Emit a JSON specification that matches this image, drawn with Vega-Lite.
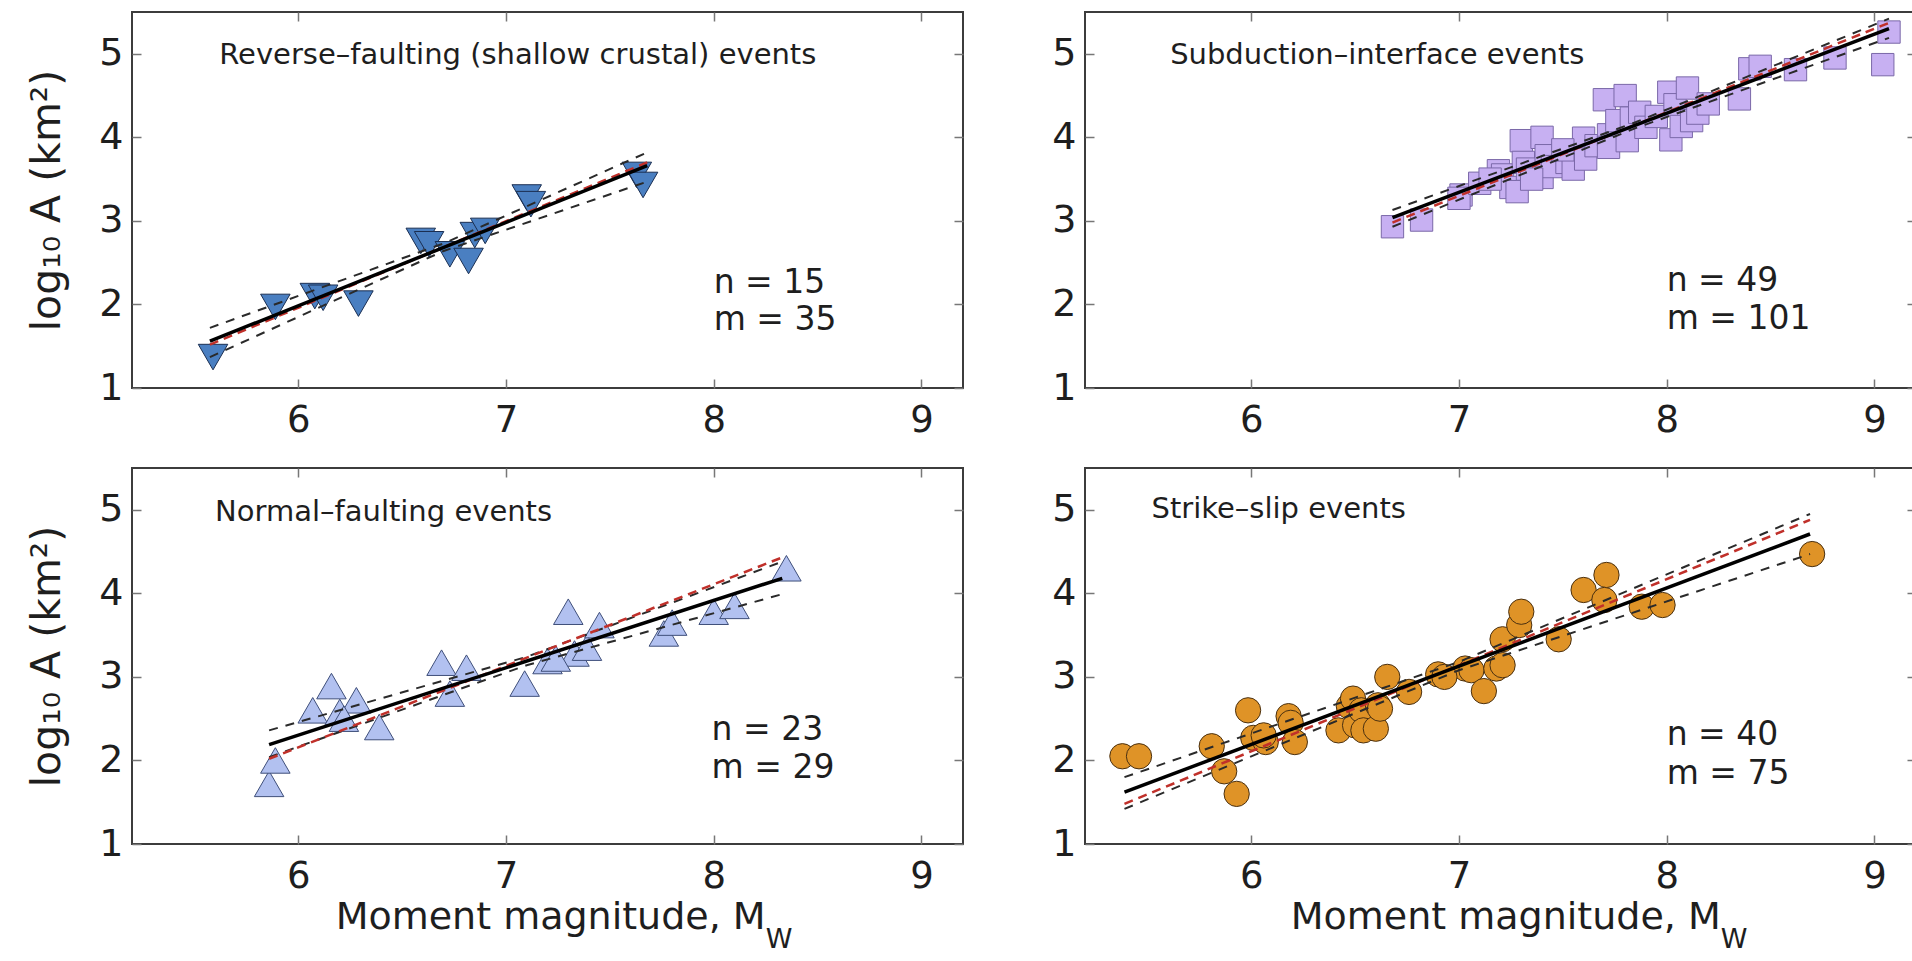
{
"$schema": "https://vega.github.io/schema/vega-lite/v6.json",
"padding": {"left": 25, "top": 10, "right": 0, "bottom": 0},
"background": "white",
"datasets": {
"pts": [
{"p":"rev","mw":5.59,"logA":1.37},{"p":"rev","mw":5.89,"logA":1.97},{"p":"rev","mw":6.08,"logA":2.10},{"p":"rev","mw":6.12,"logA":2.08},{"p":"rev","mw":6.29,"logA":2.01},{"p":"rev","mw":6.59,"logA":2.76},{"p":"rev","mw":6.63,"logA":2.72},{"p":"rev","mw":6.73,"logA":2.60},{"p":"rev","mw":6.82,"logA":2.52},{"p":"rev","mw":6.85,"logA":2.83},{"p":"rev","mw":6.90,"logA":2.88},{"p":"rev","mw":7.10,"logA":3.28},{"p":"rev","mw":7.12,"logA":3.20},{"p":"rev","mw":7.63,"logA":3.55},{"p":"rev","mw":7.66,"logA":3.43},
{"p":"sub","mw":6.68,"logA":2.93},{"p":"sub","mw":6.82,"logA":3.01},{"p":"sub","mw":7.01,"logA":3.31},{"p":"sub","mw":7.00,"logA":3.27},{"p":"sub","mw":7.19,"logA":3.60},{"p":"sub","mw":7.21,"logA":3.55},{"p":"sub","mw":7.25,"logA":3.40},{"p":"sub","mw":7.28,"logA":3.35},{"p":"sub","mw":7.30,"logA":3.96},{"p":"sub","mw":7.31,"logA":3.70},{"p":"sub","mw":7.33,"logA":3.62},{"p":"sub","mw":7.40,"logA":4.00},{"p":"sub","mw":7.40,"logA":3.52},{"p":"sub","mw":7.42,"logA":3.78},{"p":"sub","mw":7.45,"logA":3.65},{"p":"sub","mw":7.52,"logA":3.70},{"p":"sub","mw":7.55,"logA":3.62},{"p":"sub","mw":7.60,"logA":3.99},{"p":"sub","mw":7.61,"logA":3.74},{"p":"sub","mw":7.66,"logA":3.90},{"p":"sub","mw":7.70,"logA":4.45},{"p":"sub","mw":7.72,"logA":4.03},{"p":"sub","mw":7.72,"logA":3.88},{"p":"sub","mw":7.76,"logA":4.20},{"p":"sub","mw":7.80,"logA":4.50},{"p":"sub","mw":7.81,"logA":3.96},{"p":"sub","mw":7.83,"logA":4.23},{"p":"sub","mw":7.87,"logA":4.30},{"p":"sub","mw":7.90,"logA":4.12},{"p":"sub","mw":7.95,"logA":4.25},{"p":"sub","mw":8.01,"logA":4.54},{"p":"sub","mw":8.02,"logA":3.97},{"p":"sub","mw":8.04,"logA":4.39},{"p":"sub","mw":8.07,"logA":4.13},{"p":"sub","mw":8.10,"logA":4.59},{"p":"sub","mw":8.12,"logA":4.20},{"p":"sub","mw":8.15,"logA":4.29},{"p":"sub","mw":8.35,"logA":4.46},{"p":"sub","mw":8.40,"logA":4.82},{"p":"sub","mw":8.45,"logA":4.85},{"p":"sub","mw":8.62,"logA":4.81},{"p":"sub","mw":8.81,"logA":4.95},{"p":"sub","mw":9.04,"logA":4.87},{"p":"sub","mw":9.07,"logA":5.26},{"p":"sub","mw":7.10,"logA":3.45},{"p":"sub","mw":7.50,"logA":3.85},{"p":"sub","mw":7.35,"logA":3.50},{"p":"sub","mw":8.20,"logA":4.40},{"p":"sub","mw":7.15,"logA":3.50},
{"p":"nor","mw":5.86,"logA":1.72},{"p":"nor","mw":5.89,"logA":2.00},{"p":"nor","mw":6.07,"logA":2.60},{"p":"nor","mw":6.16,"logA":2.89},{"p":"nor","mw":6.20,"logA":2.58},{"p":"nor","mw":6.28,"logA":2.72},{"p":"nor","mw":6.39,"logA":2.40},{"p":"nor","mw":6.69,"logA":3.17},{"p":"nor","mw":6.73,"logA":2.80},{"p":"nor","mw":6.81,"logA":3.11},{"p":"nor","mw":7.09,"logA":2.92},{"p":"nor","mw":7.20,"logA":3.19},{"p":"nor","mw":7.30,"logA":3.78},{"p":"nor","mw":7.33,"logA":3.28},{"p":"nor","mw":7.39,"logA":3.35},{"p":"nor","mw":7.45,"logA":3.62},{"p":"nor","mw":7.76,"logA":3.52},{"p":"nor","mw":7.80,"logA":3.65},{"p":"nor","mw":8.00,"logA":3.78},{"p":"nor","mw":8.10,"logA":3.85},{"p":"nor","mw":8.35,"logA":4.30},{"p":"nor","mw":6.22,"logA":2.50},{"p":"nor","mw":7.24,"logA":3.22},
{"p":"ss","mw":5.38,"logA":2.05},{"p":"ss","mw":5.46,"logA":2.05},{"p":"ss","mw":5.81,"logA":2.17},{"p":"ss","mw":5.87,"logA":1.87},{"p":"ss","mw":5.93,"logA":1.60},{"p":"ss","mw":5.985,"logA":2.60},{"p":"ss","mw":6.01,"logA":2.27},{"p":"ss","mw":6.07,"logA":2.22},{"p":"ss","mw":6.18,"logA":2.53},{"p":"ss","mw":6.19,"logA":2.45},{"p":"ss","mw":6.21,"logA":2.22},{"p":"ss","mw":6.42,"logA":2.36},{"p":"ss","mw":6.47,"logA":2.65},{"p":"ss","mw":6.49,"logA":2.74},{"p":"ss","mw":6.50,"logA":2.42},{"p":"ss","mw":6.53,"logA":2.60},{"p":"ss","mw":6.54,"logA":2.36},{"p":"ss","mw":6.60,"logA":2.38},{"p":"ss","mw":6.61,"logA":2.66},{"p":"ss","mw":6.655,"logA":3.00},{"p":"ss","mw":6.76,"logA":2.82},{"p":"ss","mw":6.90,"logA":3.03},{"p":"ss","mw":7.03,"logA":3.10},{"p":"ss","mw":7.06,"logA":3.08},{"p":"ss","mw":7.12,"logA":2.83},{"p":"ss","mw":7.18,"logA":3.10},{"p":"ss","mw":7.21,"logA":3.14},{"p":"ss","mw":7.21,"logA":3.45},{"p":"ss","mw":7.29,"logA":3.62},{"p":"ss","mw":7.30,"logA":3.78},{"p":"ss","mw":7.48,"logA":3.45},{"p":"ss","mw":7.60,"logA":4.04},{"p":"ss","mw":7.71,"logA":4.22},{"p":"ss","mw":7.70,"logA":3.92},{"p":"ss","mw":7.88,"logA":3.84},{"p":"ss","mw":7.98,"logA":3.86},{"p":"ss","mw":8.70,"logA":4.47},{"p":"ss","mw":6.93,"logA":3.00},{"p":"ss","mw":6.62,"logA":2.62},{"p":"ss","mw":6.06,"logA":2.30}
],
"lns": [
{"p":"rev","g":"fit","mw":5.575,"logA":1.56},{"p":"rev","g":"fit","mw":7.68,"logA":3.66},
{"p":"rev","g":"alt","mw":5.575,"logA":1.52},{"p":"rev","g":"alt","mw":7.68,"logA":3.70},
{"p":"rev","g":"hi","mw":5.575,"logA":1.72},{"p":"rev","g":"hi","mw":6.7,"logA":2.73},{"p":"rev","g":"hi","mw":7.68,"logA":3.82},
{"p":"rev","g":"lo","mw":5.575,"logA":1.37},{"p":"rev","g":"lo","mw":6.7,"logA":2.64},{"p":"rev","g":"lo","mw":7.68,"logA":3.47},
{"p":"sub","g":"fit","mw":6.68,"logA":3.04},{"p":"sub","g":"fit","mw":9.07,"logA":5.30},
{"p":"sub","g":"alt","mw":6.68,"logA":2.98},{"p":"sub","g":"alt","mw":9.07,"logA":5.37},
{"p":"sub","g":"hi","mw":6.68,"logA":3.13},{"p":"sub","g":"hi","mw":7.85,"logA":4.18},{"p":"sub","g":"hi","mw":9.07,"logA":5.42},
{"p":"sub","g":"lo","mw":6.68,"logA":2.93},{"p":"sub","g":"lo","mw":7.85,"logA":4.11},{"p":"sub","g":"lo","mw":9.07,"logA":5.19},
{"p":"nor","g":"fit","mw":5.86,"logA":2.19},{"p":"nor","g":"fit","mw":8.33,"logA":4.18},
{"p":"nor","g":"alt","mw":5.86,"logA":2.02},{"p":"nor","g":"alt","mw":8.33,"logA":4.43},
{"p":"nor","g":"hi","mw":5.86,"logA":2.36},{"p":"nor","g":"hi","mw":7.1,"logA":3.24},{"p":"nor","g":"hi","mw":8.33,"logA":4.38},
{"p":"nor","g":"lo","mw":5.86,"logA":2.04},{"p":"nor","g":"lo","mw":7.1,"logA":3.14},{"p":"nor","g":"lo","mw":8.33,"logA":3.99},
{"p":"ss","g":"fit","mw":5.39,"logA":1.62},{"p":"ss","g":"fit","mw":8.69,"logA":4.71},
{"p":"ss","g":"alt","mw":5.39,"logA":1.48},{"p":"ss","g":"alt","mw":8.69,"logA":4.88},
{"p":"ss","g":"hi","mw":5.39,"logA":1.80},{"p":"ss","g":"hi","mw":7.0,"logA":3.18},{"p":"ss","g":"hi","mw":8.69,"logA":4.95},
{"p":"ss","g":"lo","mw":5.39,"logA":1.42},{"p":"ss","g":"lo","mw":7.0,"logA":3.08},{"p":"ss","g":"lo","mw":8.69,"logA":4.47}
]
},
"spacing": 27,
"vconcat": [
{"hconcat": [
{"width": 831, "height": 376,
 "resolve": {"axis": {"x": "independent", "y": "independent"}},
 "layer": [
  {"data": {"name": "pts"}, "transform": [{"filter": "datum.p == 'rev'"}],
   "mark": {"type": "point", "shape": "triangle-down", "filled": true, "fill": "#4a7fc1", "stroke": "#1b2f52", "strokeWidth": 1, "size": 870, "opacity": 1},
   "encoding": {
    "x": {"field": "mw", "type": "quantitative", "scale": {"domain": [5.2, 9.2], "nice": false, "zero": false}, "axis": {"values": [6,7,8,9], "title": null}},
    "y": {"field": "logA", "type": "quantitative", "scale": {"domain": [1, 5.5], "nice": false, "zero": false}, "axis": {"values": [1,2,3,4,5], "title": "log₁₀ A (km²)"}}}},
  {"data": {"name": "lns"}, "transform": [{"filter": "datum.p == 'rev' && (datum.g == 'hi' || datum.g == 'lo')"}],
   "mark": {"type": "line", "color": "#2a2a2a", "strokeWidth": 2, "strokeDash": [9, 8]},
   "encoding": {"x": {"field": "mw", "type": "quantitative", "axis": null}, "y": {"field": "logA", "type": "quantitative", "axis": null}, "detail": {"field": "g"}}},
  {"data": {"name": "lns"}, "transform": [{"filter": "datum.p == 'rev' && datum.g == 'alt'"}],
   "mark": {"type": "line", "color": "#c0302a", "strokeWidth": 2.5, "strokeDash": [9, 6]},
   "encoding": {"x": {"field": "mw", "type": "quantitative", "axis": null}, "y": {"field": "logA", "type": "quantitative", "axis": null}}},
  {"data": {"name": "lns"}, "transform": [{"filter": "datum.p == 'rev' && datum.g == 'fit'"}],
   "mark": {"type": "line", "color": "#000000", "strokeWidth": 3.5},
   "encoding": {"x": {"field": "mw", "type": "quantitative", "axis": {"orient": "top", "values": [6,7,8,9], "labels": false, "title": null}}, "y": {"field": "logA", "type": "quantitative", "axis": {"orient": "right", "values": [1,2,3,4,5], "labels": false, "title": null}}}},
  {"data": {"values": [{}]}, "mark": {"type": "text", "align": "left", "baseline": "alphabetic", "fontSize": 29},
   "encoding": {"x": {"datum": 5.62, "type": "quantitative", "axis": null}, "y": {"datum": 4.88, "type": "quantitative", "axis": null}, "text": {"value": "Reverse–faulting (shallow crustal) events"}}},
  {"data": {"values": [{}]}, "mark": {"type": "text", "align": "left", "baseline": "alphabetic", "fontSize": 33},
   "encoding": {"x": {"datum": 8.0, "type": "quantitative", "axis": null}, "y": {"datum": 2.14, "type": "quantitative", "axis": null}, "text": {"value": "n = 15"}}},
  {"data": {"values": [{}]}, "mark": {"type": "text", "align": "left", "baseline": "alphabetic", "fontSize": 33},
   "encoding": {"x": {"datum": 8.0, "type": "quantitative", "axis": null}, "y": {"datum": 1.69, "type": "quantitative", "axis": null}, "text": {"value": "m = 35"}}}
 ]},
{"width": 831, "height": 376,
 "resolve": {"axis": {"x": "independent", "y": "independent"}},
 "layer": [
  {"data": {"name": "pts"}, "transform": [{"filter": "datum.p == 'sub'"}],
   "mark": {"type": "point", "shape": "square", "filled": true, "fill": "#c7b0f2", "stroke": "#7a68a8", "strokeWidth": 1, "size": 500, "opacity": 1},
   "encoding": {
    "x": {"field": "mw", "type": "quantitative", "scale": {"domain": [5.2, 9.2], "nice": false, "zero": false}, "axis": {"values": [6,7,8,9], "title": null}},
    "y": {"field": "logA", "type": "quantitative", "scale": {"domain": [1, 5.5], "nice": false, "zero": false}, "axis": {"values": [1,2,3,4,5], "title": null}}}},
  {"data": {"name": "lns"}, "transform": [{"filter": "datum.p == 'sub' && (datum.g == 'hi' || datum.g == 'lo')"}],
   "mark": {"type": "line", "color": "#2a2a2a", "strokeWidth": 2, "strokeDash": [9, 8]},
   "encoding": {"x": {"field": "mw", "type": "quantitative", "axis": null}, "y": {"field": "logA", "type": "quantitative", "axis": null}, "detail": {"field": "g"}}},
  {"data": {"name": "lns"}, "transform": [{"filter": "datum.p == 'sub' && datum.g == 'alt'"}],
   "mark": {"type": "line", "color": "#c0302a", "strokeWidth": 2.5, "strokeDash": [9, 6]},
   "encoding": {"x": {"field": "mw", "type": "quantitative", "axis": null}, "y": {"field": "logA", "type": "quantitative", "axis": null}}},
  {"data": {"name": "lns"}, "transform": [{"filter": "datum.p == 'sub' && datum.g == 'fit'"}],
   "mark": {"type": "line", "color": "#000000", "strokeWidth": 3.5},
   "encoding": {"x": {"field": "mw", "type": "quantitative", "axis": {"orient": "top", "values": [6,7,8,9], "labels": false, "title": null}}, "y": {"field": "logA", "type": "quantitative", "axis": {"orient": "right", "values": [1,2,3,4,5], "labels": false, "title": null}}}},
  {"data": {"values": [{}]}, "mark": {"type": "text", "align": "left", "baseline": "alphabetic", "fontSize": 29},
   "encoding": {"x": {"datum": 5.61, "type": "quantitative", "axis": null}, "y": {"datum": 4.88, "type": "quantitative", "axis": null}, "text": {"value": "Subduction–interface events"}}},
  {"data": {"values": [{}]}, "mark": {"type": "text", "align": "left", "baseline": "alphabetic", "fontSize": 33},
   "encoding": {"x": {"datum": 8.0, "type": "quantitative", "axis": null}, "y": {"datum": 2.16, "type": "quantitative", "axis": null}, "text": {"value": "n = 49"}}},
  {"data": {"values": [{}]}, "mark": {"type": "text", "align": "left", "baseline": "alphabetic", "fontSize": 33},
   "encoding": {"x": {"datum": 8.0, "type": "quantitative", "axis": null}, "y": {"datum": 1.71, "type": "quantitative", "axis": null}, "text": {"value": "m = 101"}}}
 ]}
], "spacing": 85},
{"hconcat": [
{"width": 831, "height": 376,
 "resolve": {"axis": {"x": "independent", "y": "independent"}},
 "layer": [
  {"data": {"name": "pts"}, "transform": [{"filter": "datum.p == 'nor'"}],
   "mark": {"type": "point", "shape": "triangle-up", "filled": true, "fill": "#b2c1f0", "stroke": "#3f4f7a", "strokeWidth": 1, "size": 870, "opacity": 1},
   "encoding": {
    "x": {"field": "mw", "type": "quantitative", "scale": {"domain": [5.2, 9.2], "nice": false, "zero": false}, "axis": {"values": [6,7,8,9], "title": null}},
    "y": {"field": "logA", "type": "quantitative", "scale": {"domain": [1, 5.5], "nice": false, "zero": false}, "axis": {"values": [1,2,3,4,5], "title": "log₁₀ A (km²)"}}}},
  {"data": {"name": "lns"}, "transform": [{"filter": "datum.p == 'nor' && (datum.g == 'hi' || datum.g == 'lo')"}],
   "mark": {"type": "line", "color": "#2a2a2a", "strokeWidth": 2, "strokeDash": [9, 8]},
   "encoding": {"x": {"field": "mw", "type": "quantitative", "axis": null}, "y": {"field": "logA", "type": "quantitative", "axis": null}, "detail": {"field": "g"}}},
  {"data": {"name": "lns"}, "transform": [{"filter": "datum.p == 'nor' && datum.g == 'alt'"}],
   "mark": {"type": "line", "color": "#c0302a", "strokeWidth": 2.5, "strokeDash": [9, 6]},
   "encoding": {"x": {"field": "mw", "type": "quantitative", "axis": null}, "y": {"field": "logA", "type": "quantitative", "axis": null}}},
  {"data": {"name": "lns"}, "transform": [{"filter": "datum.p == 'nor' && datum.g == 'fit'"}],
   "mark": {"type": "line", "color": "#000000", "strokeWidth": 3.5},
   "encoding": {"x": {"field": "mw", "type": "quantitative", "axis": {"orient": "top", "values": [6,7,8,9], "labels": false, "title": null}}, "y": {"field": "logA", "type": "quantitative", "axis": {"orient": "right", "values": [1,2,3,4,5], "labels": false, "title": null}}}},
  {"data": {"values": [{}]}, "mark": {"type": "text", "align": "left", "baseline": "alphabetic", "fontSize": 29},
   "encoding": {"x": {"datum": 5.60, "type": "quantitative", "axis": null}, "y": {"datum": 4.87, "type": "quantitative", "axis": null}, "text": {"value": "Normal–faulting events"}}},
  {"data": {"values": [{}]}, "mark": {"type": "text", "align": "left", "baseline": "alphabetic", "fontSize": 33},
   "encoding": {"x": {"datum": 7.99, "type": "quantitative", "axis": null}, "y": {"datum": 2.24, "type": "quantitative", "axis": null}, "text": {"value": "n = 23"}}},
  {"data": {"values": [{}]}, "mark": {"type": "text", "align": "left", "baseline": "alphabetic", "fontSize": 33},
   "encoding": {"x": {"datum": 7.99, "type": "quantitative", "axis": null}, "y": {"datum": 1.79, "type": "quantitative", "axis": null}, "text": {"value": "m = 29"}}},
  {"data": {"values": [{}]}, "mark": {"type": "text", "align": "right", "baseline": "alphabetic", "fontSize": 38},
   "encoding": {"x": {"datum": 8.25, "type": "quantitative", "axis": null}, "y": {"datum": -0.02, "type": "quantitative", "axis": null}, "text": {"value": "Moment magnitude, M"}}},
  {"data": {"values": [{}]}, "mark": {"type": "text", "align": "left", "baseline": "alphabetic", "fontSize": 27},
   "encoding": {"x": {"datum": 8.25, "type": "quantitative", "axis": null}, "y": {"datum": -0.25, "type": "quantitative", "axis": null}, "text": {"value": "W"}}}
 ]},
{"width": 831, "height": 376,
 "resolve": {"axis": {"x": "independent", "y": "independent"}},
 "layer": [
  {"data": {"name": "pts"}, "transform": [{"filter": "datum.p == 'ss'"}],
   "mark": {"type": "point", "shape": "circle", "filled": true, "fill": "#df9327", "stroke": "#4a3010", "strokeWidth": 1, "size": 640, "opacity": 1},
   "encoding": {
    "x": {"field": "mw", "type": "quantitative", "scale": {"domain": [5.2, 9.2], "nice": false, "zero": false}, "axis": {"values": [6,7,8,9], "title": null}},
    "y": {"field": "logA", "type": "quantitative", "scale": {"domain": [1, 5.5], "nice": false, "zero": false}, "axis": {"values": [1,2,3,4,5], "title": null}}}},
  {"data": {"name": "lns"}, "transform": [{"filter": "datum.p == 'ss' && (datum.g == 'hi' || datum.g == 'lo')"}],
   "mark": {"type": "line", "color": "#2a2a2a", "strokeWidth": 2, "strokeDash": [9, 8]},
   "encoding": {"x": {"field": "mw", "type": "quantitative", "axis": null}, "y": {"field": "logA", "type": "quantitative", "axis": null}, "detail": {"field": "g"}}},
  {"data": {"name": "lns"}, "transform": [{"filter": "datum.p == 'ss' && datum.g == 'alt'"}],
   "mark": {"type": "line", "color": "#c0302a", "strokeWidth": 2.5, "strokeDash": [9, 6]},
   "encoding": {"x": {"field": "mw", "type": "quantitative", "axis": null}, "y": {"field": "logA", "type": "quantitative", "axis": null}}},
  {"data": {"name": "lns"}, "transform": [{"filter": "datum.p == 'ss' && datum.g == 'fit'"}],
   "mark": {"type": "line", "color": "#000000", "strokeWidth": 3.5},
   "encoding": {"x": {"field": "mw", "type": "quantitative", "axis": {"orient": "top", "values": [6,7,8,9], "labels": false, "title": null}}, "y": {"field": "logA", "type": "quantitative", "axis": {"orient": "right", "values": [1,2,3,4,5], "labels": false, "title": null}}}},
  {"data": {"values": [{}]}, "mark": {"type": "text", "align": "left", "baseline": "alphabetic", "fontSize": 29},
   "encoding": {"x": {"datum": 5.52, "type": "quantitative", "axis": null}, "y": {"datum": 4.90, "type": "quantitative", "axis": null}, "text": {"value": "Strike–slip events"}}},
  {"data": {"values": [{}]}, "mark": {"type": "text", "align": "left", "baseline": "alphabetic", "fontSize": 33},
   "encoding": {"x": {"datum": 8.0, "type": "quantitative", "axis": null}, "y": {"datum": 2.18, "type": "quantitative", "axis": null}, "text": {"value": "n = 40"}}},
  {"data": {"values": [{}]}, "mark": {"type": "text", "align": "left", "baseline": "alphabetic", "fontSize": 33},
   "encoding": {"x": {"datum": 8.0, "type": "quantitative", "axis": null}, "y": {"datum": 1.72, "type": "quantitative", "axis": null}, "text": {"value": "m = 75"}}},
  {"data": {"values": [{}]}, "mark": {"type": "text", "align": "right", "baseline": "alphabetic", "fontSize": 38},
   "encoding": {"x": {"datum": 8.26, "type": "quantitative", "axis": null}, "y": {"datum": -0.02, "type": "quantitative", "axis": null}, "text": {"value": "Moment magnitude, M"}}},
  {"data": {"values": [{}]}, "mark": {"type": "text", "align": "left", "baseline": "alphabetic", "fontSize": 27},
   "encoding": {"x": {"datum": 8.26, "type": "quantitative", "axis": null}, "y": {"datum": -0.25, "type": "quantitative", "axis": null}, "text": {"value": "W"}}}
 ]}
], "spacing": 85}
],
"config": {
 "view": {"stroke": "#3c3c3c", "strokeWidth": 2},
 "axis": {"domain": false, "grid": false, "labelFont": "DejaVu Sans", "labelFontSize": 38, "labelColor": "#1e1e1e", "titleFont": "DejaVu Sans", "titleFontSize": 41, "titleFontWeight": "normal", "titleColor": "#1e1e1e", "tickColor": "#777777", "tickWidth": 1.5, "tickSize": -9},
 "axisX": {"labelPadding": 23, "labelFontSize": 37},
 "axisY": {"labelPadding": 18, "titlePadding": 30},
 "text": {"font": "DejaVu Sans", "color": "#1e1e1e"}
}
}
